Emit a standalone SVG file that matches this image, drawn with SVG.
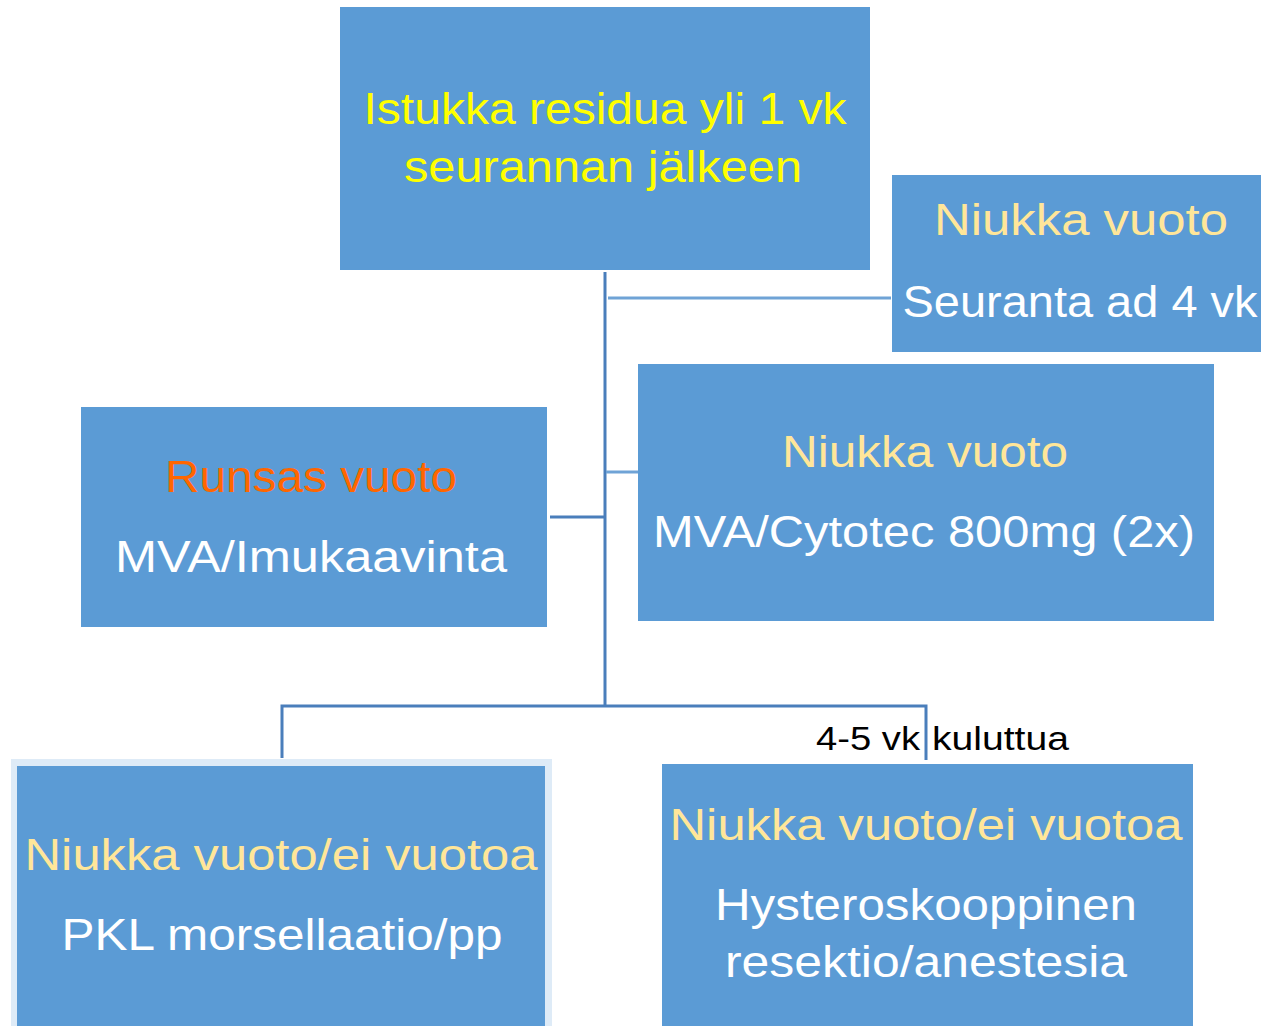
<svg xmlns="http://www.w3.org/2000/svg" width="1261" height="1026" viewBox="0 0 1261 1026">
<style>
.box{fill:#5B9BD5}
text{font-family:"Liberation Sans",Arial,sans-serif;font-size:45px;text-anchor:middle;lengthAdjust:spacingAndGlyphs}
.y{fill:#FFFF00}
.g{fill:#FFE699}
.o{fill:#FF6600}
.w{fill:#FFFFFF}
.dk{stroke:#4A7EBB;stroke-width:3;fill:none}
.lt{stroke:#6FA3D6;stroke-width:3;fill:none}
.lbl{fill:#000;font-size:34px;text-anchor:start}
</style>
<rect width="1261" height="1026" fill="#FFFFFF"/>
<g id="connectors">
<line class="dk" x1="605" y1="272" x2="605" y2="706"/>
<line class="lt" x1="608" y1="298" x2="891" y2="298"/>
<line class="lt" x1="606" y1="472" x2="638" y2="472"/>
<line class="dk" x1="550" y1="517" x2="604" y2="517"/>
<polyline class="dk" points="282,758 282,706 926,706 926,760"/>
</g>
<g id="top">
<rect class="box" x="340" y="7" width="530" height="263"/>
<text class="y" x="605" y="124" textLength="483" lengthAdjust="spacingAndGlyphs">Istukka residua yli 1 vk</text>
<text class="y" x="603" y="182" textLength="398" lengthAdjust="spacingAndGlyphs">seurannan jälkeen</text>
</g>
<g id="seuranta">
<rect class="box" x="892" y="175" width="369" height="177"/>
<text class="g" x="1081" y="235" textLength="294" lengthAdjust="spacingAndGlyphs">Niukka vuoto</text>
<text class="w" x="1080" y="317" textLength="355" lengthAdjust="spacingAndGlyphs">Seuranta ad 4 vk</text>
</g>
<g id="cytotec">
<rect class="box" x="638" y="364" width="576" height="257"/>
<text class="g" x="925" y="467" textLength="286" lengthAdjust="spacingAndGlyphs">Niukka vuoto</text>
<text class="w" x="924" y="547" textLength="542" lengthAdjust="spacingAndGlyphs">MVA/Cytotec 800mg (2x)</text>
</g>
<g id="runsas">
<rect class="box" x="81" y="407" width="466" height="220"/>
<text class="o" x="311" y="492" textLength="292" lengthAdjust="spacingAndGlyphs">Runsas vuoto</text>
<text class="w" x="311" y="572" textLength="392" lengthAdjust="spacingAndGlyphs">MVA/Imukaavinta</text>
</g>
<g id="pkl">
<rect x="11" y="759" width="541" height="267" fill="#DEEBF7"/>
<rect class="box" x="17" y="766" width="528" height="260"/>
<text class="g" x="281" y="870" textLength="513" lengthAdjust="spacingAndGlyphs">Niukka vuoto/ei vuotoa</text>
<text class="w" x="282" y="950" textLength="441" lengthAdjust="spacingAndGlyphs">PKL morsellaatio/pp</text>
</g>
<g id="hystero">
<rect class="box" x="662" y="764" width="531" height="262"/>
<text class="g" x="926" y="840" textLength="513" lengthAdjust="spacingAndGlyphs">Niukka vuoto/ei vuotoa</text>
<text class="w" x="926" y="920" textLength="422" lengthAdjust="spacingAndGlyphs">Hysteroskooppinen</text>
<text class="w" x="926" y="977" textLength="402" lengthAdjust="spacingAndGlyphs">resektio/anestesia</text>
</g>
<g id="label">
<text class="lbl" x="816" y="750" textLength="104" lengthAdjust="spacingAndGlyphs">4-5 vk</text>
<text class="lbl" x="932" y="750" textLength="137" lengthAdjust="spacingAndGlyphs">kuluttua</text>
</g>
</svg>
